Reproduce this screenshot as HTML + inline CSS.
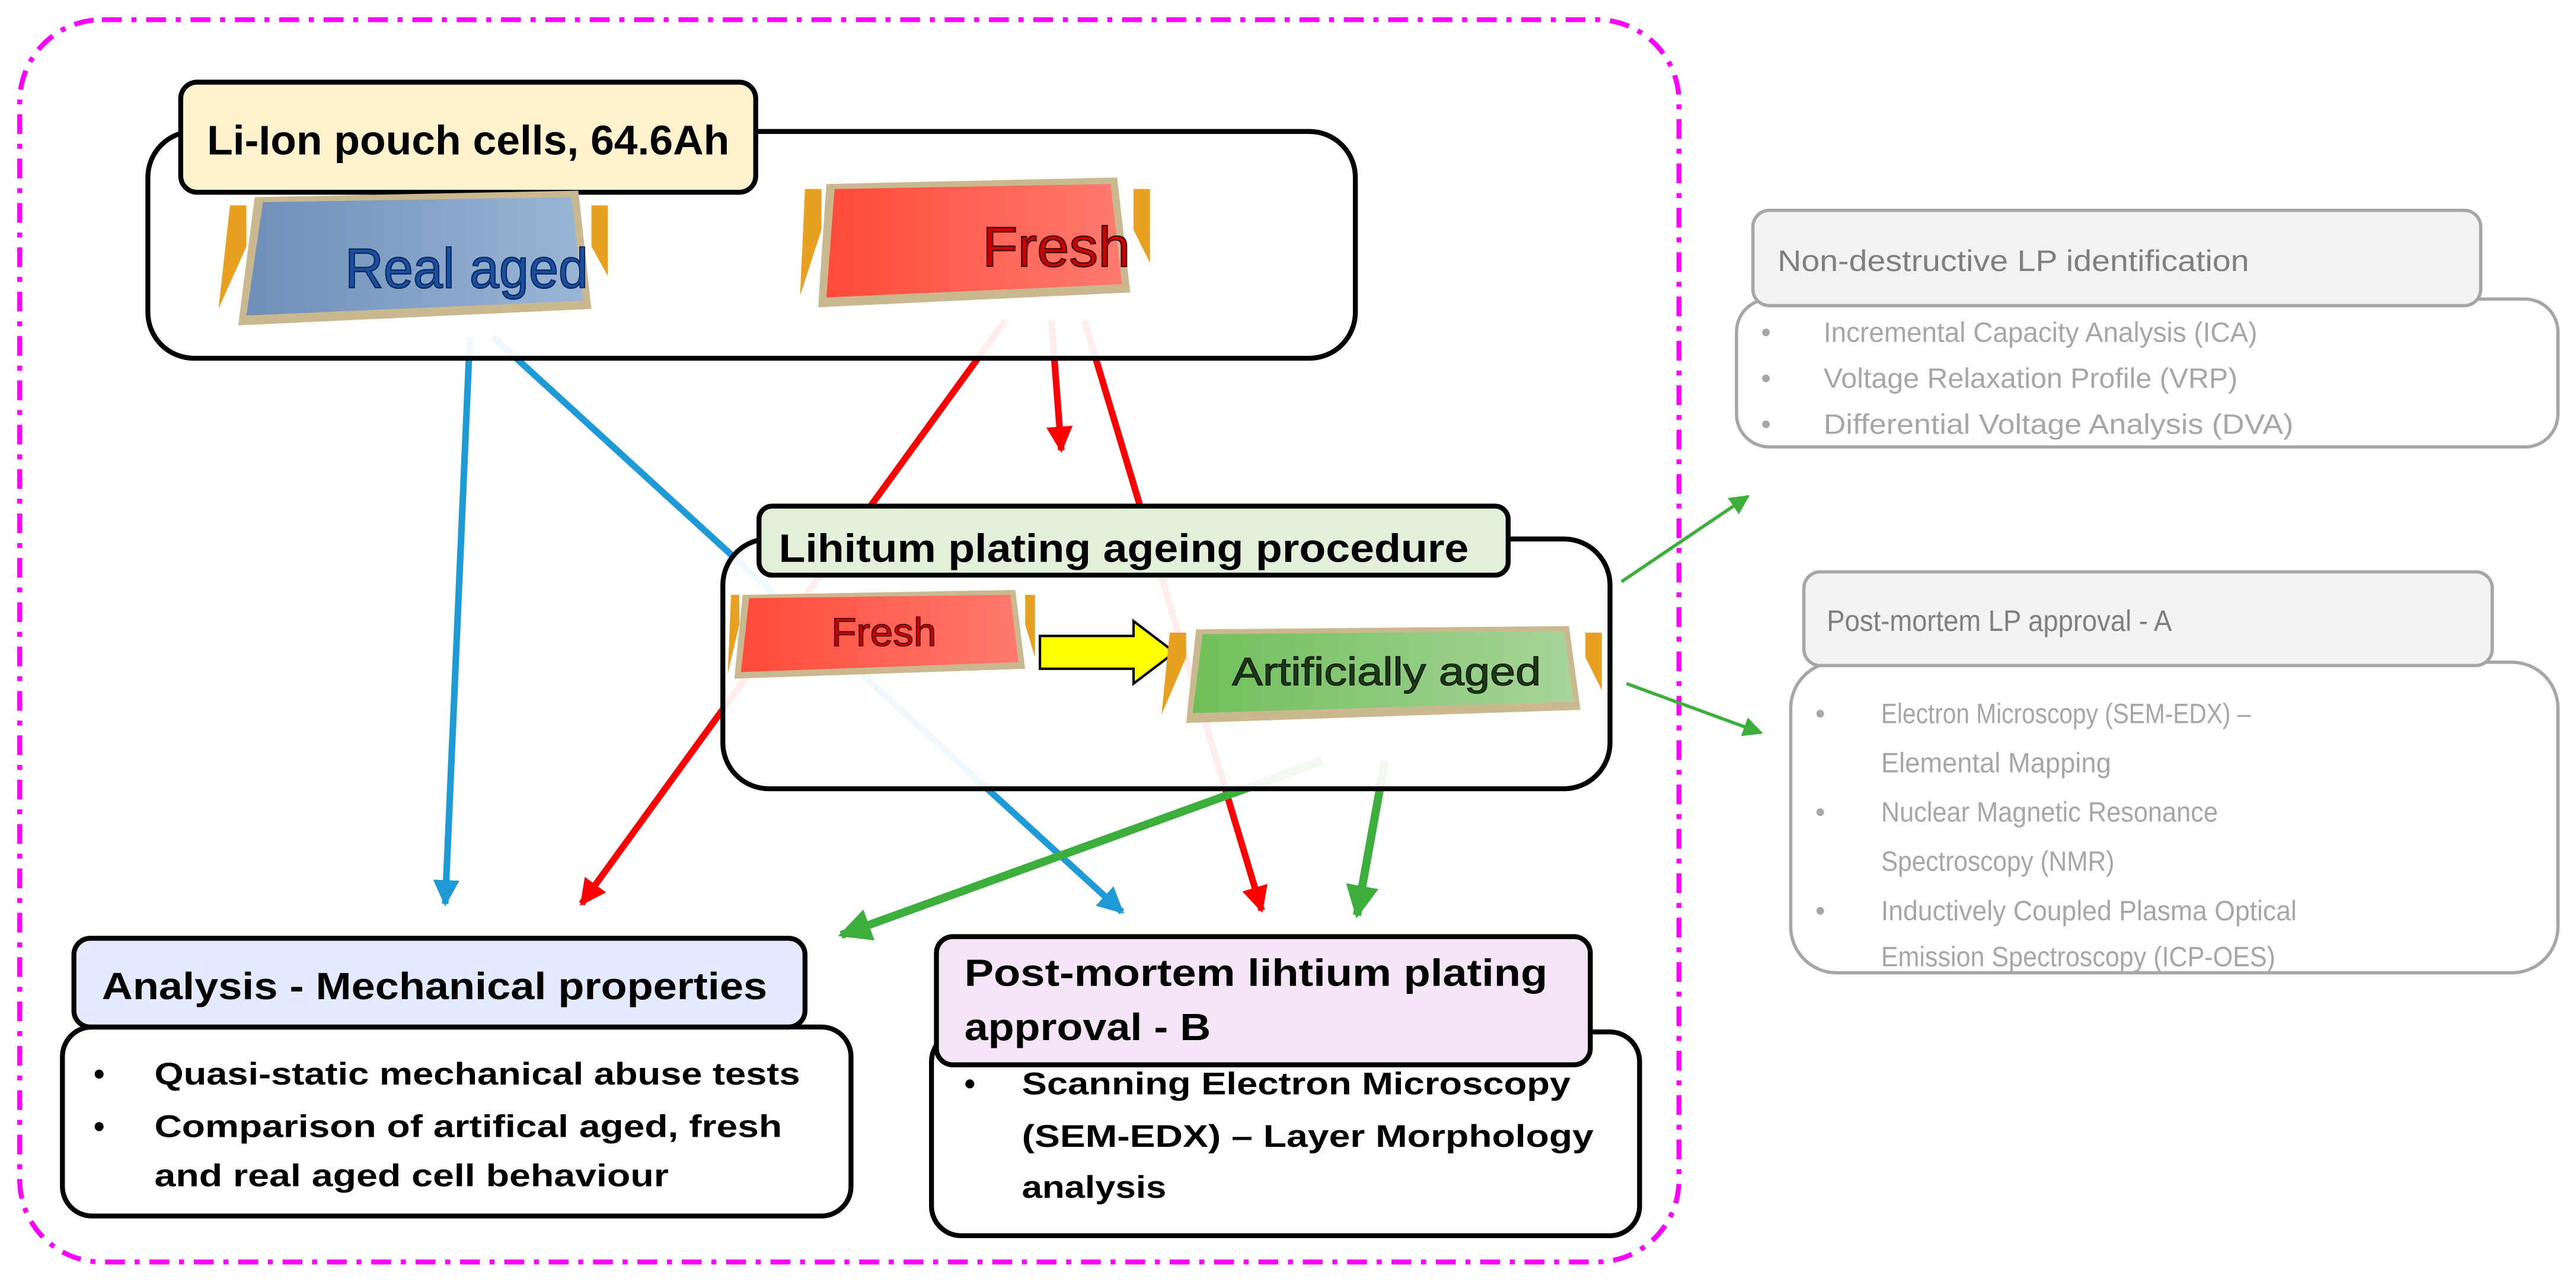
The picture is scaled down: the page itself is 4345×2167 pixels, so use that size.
<!DOCTYPE html>
<html><head><meta charset="utf-8"><style>
html,body{margin:0;padding:0;background:#fff}
svg{display:block}
text{font-family:"Liberation Sans",sans-serif}
</style></head><body>
<svg width="4345" height="2167" viewBox="0 0 1568 782" xmlns="http://www.w3.org/2000/svg">
<defs>
<marker id="ab" viewBox="0 0 10 10" refX="9" refY="5" markerWidth="4" markerHeight="5" orient="auto" markerUnits="strokeWidth"><path d="M0,0 L10,5 L0,10 z" fill="#1e9ad6"/></marker>
<marker id="ar" viewBox="0 0 10 10" refX="9" refY="5" markerWidth="4" markerHeight="5" orient="auto" markerUnits="strokeWidth"><path d="M0,0 L10,5 L0,10 z" fill="#ff0000"/></marker>
<marker id="ag" viewBox="0 0 10 10" refX="9" refY="5" markerWidth="4" markerHeight="5" orient="auto" markerUnits="strokeWidth"><path d="M0,0 L10,5 L0,10 z" fill="#3cae3c"/></marker>
<marker id="ag2" viewBox="0 0 10 10" refX="9" refY="5" markerWidth="6" markerHeight="6" orient="auto" markerUnits="strokeWidth"><path d="M0,0 L10,5 L0,10 z" fill="#3cae3c"/></marker>
<linearGradient id="gb" x1="0" x2="1"><stop offset="0" stop-color="#6f8fb8"/><stop offset="1" stop-color="#9ab5d6"/></linearGradient>
<linearGradient id="gr" x1="0" x2="1"><stop offset="0" stop-color="#ff4a3a"/><stop offset="1" stop-color="#ff7a6e"/></linearGradient>
<linearGradient id="gg" x1="0" x2="1"><stop offset="0" stop-color="#6fbf5a"/><stop offset="1" stop-color="#a8d49a"/></linearGradient>
</defs>

<!-- magenta frame -->
<rect x="12" y="12" width="1010" height="756" rx="50" fill="none" stroke="#ff00ff" stroke-width="3" stroke-dasharray="12,6,3,6"/>

<!-- connectors -->
<g stroke-width="4" fill="none">
<line x1="286" y1="205" x2="271" y2="550" stroke="#1e9ad6" marker-end="url(#ab)"/>
<line x1="300" y1="205" x2="683" y2="555" stroke="#1e9ad6" marker-end="url(#ab)"/>
<line x1="612" y1="195" x2="354" y2="550" stroke="#ff0000" marker-end="url(#ar)"/>
<line x1="640" y1="195" x2="646" y2="274" stroke="#ff0000" marker-end="url(#ar)"/>
<line x1="660" y1="195" x2="768" y2="554" stroke="#ff0000" marker-end="url(#ar)"/>
<line x1="805" y1="463" x2="512" y2="569" stroke="#3cae3c" stroke-width="5" marker-end="url(#ag)"/>
<line x1="843" y1="463" x2="826" y2="557" stroke="#3cae3c" stroke-width="5" marker-end="url(#ag)"/>
<line x1="987" y1="354" x2="1064" y2="302" stroke="#3cae3c" stroke-width="2" marker-end="url(#ag2)"/>
<line x1="990" y1="416" x2="1072" y2="446" stroke="#3cae3c" stroke-width="2" marker-end="url(#ag2)"/>
</g>

<!-- Box 1 -->
<rect x="90" y="80" width="735" height="138" rx="28" fill="#fff" fill-opacity="0.93" stroke="#000" stroke-width="3"/>
<rect x="110" y="50" width="350" height="67" rx="10" fill="#fff2cc" stroke="#000" stroke-width="3"/>
<text x="126" y="94" font-size="25" font-weight="bold" textLength="318" lengthAdjust="spacingAndGlyphs">Li-Ion pouch cells, 64.6Ah</text>
<!-- real aged cell -->
<polygon points="133,188 150,150 150,125 140,125" fill="#e8a020"/>
<polygon points="370,168 360,150 360,125 370,125" fill="#e8a020"/>
<polygon points="155,120 352,116 360,188 145,198" fill="#c9b890"/>
<polygon points="160,123 348,120 355,183 150,192" fill="url(#gb)"/>
<text x="210" y="175" font-size="34" fill="#1a4fa0" stroke="#0a2a60" stroke-width="0.8" textLength="148" lengthAdjust="spacingAndGlyphs">Real aged</text>
<!-- fresh cell -->
<polygon points="487,180 500,140 500,115 490,115" fill="#e8a020"/>
<polygon points="700,160 690,140 690,115 700,115" fill="#e8a020"/>
<polygon points="503,112 680,108 688,178 498,187" fill="#c9b890"/>
<polygon points="508,115 676,112 683,173 503,181" fill="url(#gr)"/>
<text x="598" y="162" font-size="34" fill="#c00" stroke="#400" stroke-width="0.8" textLength="90" lengthAdjust="spacingAndGlyphs">Fresh</text>

<!-- Box 2 -->
<rect x="440" y="328" width="540" height="152" rx="28" fill="#fff" fill-opacity="0.93" stroke="#000" stroke-width="3"/>
<rect x="462" y="308" width="456" height="42" rx="8" fill="#e2f0d9" stroke="#000" stroke-width="3"/>
<text x="474" y="342" font-size="24" font-weight="bold" textLength="420" lengthAdjust="spacingAndGlyphs">Lihitum plating ageing procedure</text>
<polygon points="443,410 450,380 450,362 445,362" fill="#e8a020"/>
<polygon points="630,400 624,380 624,362 630,362" fill="#e8a020"/>
<polygon points="452,362 618,359 624,407 447,413" fill="#c9b890"/>
<polygon points="456,364 615,362 620,403 451,409" fill="url(#gr)"/>
<text x="506" y="393" font-size="24" fill="#c00" stroke="#400" stroke-width="0.6" textLength="64" lengthAdjust="spacingAndGlyphs">Fresh</text>
<polygon points="633,387 690,387 690,378 715,397 690,416 690,407 633,407" fill="#ffff00" stroke="#000" stroke-width="1.5"/>
<polygon points="707,435 722,400 722,385 712,385" fill="#e8a020"/>
<polygon points="975,420 965,400 965,385 975,385" fill="#e8a020"/>
<polygon points="728,383 955,381 962,432 722,440" fill="#c9b890"/>
<polygon points="732,386 952,384 958,427 726,434" fill="url(#gg)"/>
<text x="750" y="417" font-size="24" fill="#1a3a10" stroke="#000" stroke-width="0.4" textLength="188" lengthAdjust="spacingAndGlyphs">Artificially aged</text>

<!-- Box 3 -->
<rect x="38" y="625" width="480" height="115" rx="18" fill="#fff" stroke="#000" stroke-width="3"/>
<rect x="45" y="571" width="445" height="54" rx="10" fill="#e4eafd" stroke="#000" stroke-width="3"/>
<text x="62" y="608" font-size="23" font-weight="bold" textLength="405" lengthAdjust="spacingAndGlyphs">Analysis - Mechanical properties</text>
<g font-size="19" font-weight="bold">
<text x="57" y="660">•</text><text x="94" y="660" textLength="393" lengthAdjust="spacingAndGlyphs">Quasi-static mechanical abuse tests</text>
<text x="57" y="692">•</text><text x="94" y="692" textLength="382" lengthAdjust="spacingAndGlyphs">Comparison of artifical aged, fresh</text>
<text x="94" y="722" textLength="313" lengthAdjust="spacingAndGlyphs">and real aged cell behaviour</text>
</g>

<!-- Box 4 -->
<rect x="567" y="628" width="431" height="124" rx="18" fill="#fff" stroke="#000" stroke-width="3"/>
<rect x="570" y="570" width="398" height="78" rx="10" fill="#f3e5f5" stroke="#000" stroke-width="3"/>
<g font-size="23" font-weight="bold">
<text x="587" y="600" textLength="355" lengthAdjust="spacingAndGlyphs">Post-mortem lihtium plating</text>
<text x="587" y="633" textLength="150" lengthAdjust="spacingAndGlyphs">approval - B</text>
</g>
<g font-size="19" font-weight="bold">
<text x="587" y="666">•</text><text x="622" y="666" textLength="334" lengthAdjust="spacingAndGlyphs">Scanning Electron Microscopy</text>
<text x="622" y="698" textLength="348" lengthAdjust="spacingAndGlyphs">(SEM-EDX) – Layer Morphology</text>
<text x="622" y="729" textLength="88" lengthAdjust="spacingAndGlyphs">analysis</text>
</g>

<!-- Right gray boxes -->
<rect x="1057" y="182" width="500" height="90" rx="20" fill="#fff" stroke="#a6a6a6" stroke-width="2"/>
<rect x="1067" y="128" width="443" height="58" rx="10" fill="#f2f2f2" stroke="#a6a6a6" stroke-width="2"/>
<text x="1082" y="165" font-size="18" fill="#7f7f7f" textLength="287" lengthAdjust="spacingAndGlyphs">Non-destructive LP identification</text>
<g font-size="17" fill="#a6a6a6">
<text x="1072" y="208">•</text><text x="1110" y="208" textLength="264" lengthAdjust="spacingAndGlyphs">Incremental Capacity Analysis (ICA)</text>
<text x="1072" y="236">•</text><text x="1110" y="236" textLength="252" lengthAdjust="spacingAndGlyphs">Voltage Relaxation Profile (VRP)</text>
<text x="1072" y="264">•</text><text x="1110" y="264" textLength="286" lengthAdjust="spacingAndGlyphs">Differential Voltage Analysis (DVA)</text>
</g>

<rect x="1090" y="403" width="467" height="189" rx="28" fill="#fff" stroke="#a6a6a6" stroke-width="2"/>
<rect x="1098" y="348" width="419" height="57" rx="10" fill="#f2f2f2" stroke="#a6a6a6" stroke-width="2"/>
<text x="1112" y="384" font-size="18" fill="#7f7f7f" textLength="210" lengthAdjust="spacingAndGlyphs">Post-mortem LP approval - A</text>
<g font-size="17" fill="#a6a6a6">
<text x="1105" y="440">•</text><text x="1145" y="440" textLength="225" lengthAdjust="spacingAndGlyphs">Electron Microscopy (SEM-EDX) –</text>
<text x="1145" y="470" textLength="140" lengthAdjust="spacingAndGlyphs">Elemental Mapping</text>
<text x="1105" y="500">•</text><text x="1145" y="500" textLength="205" lengthAdjust="spacingAndGlyphs">Nuclear Magnetic Resonance</text>
<text x="1145" y="530" textLength="142" lengthAdjust="spacingAndGlyphs">Spectroscopy (NMR)</text>
<text x="1105" y="560">•</text><text x="1145" y="560" textLength="253" lengthAdjust="spacingAndGlyphs">Inductively Coupled Plasma Optical</text>
<text x="1145" y="588" textLength="240" lengthAdjust="spacingAndGlyphs">Emission Spectroscopy (ICP-OES)</text>
</g>
</svg>
</body></html>
